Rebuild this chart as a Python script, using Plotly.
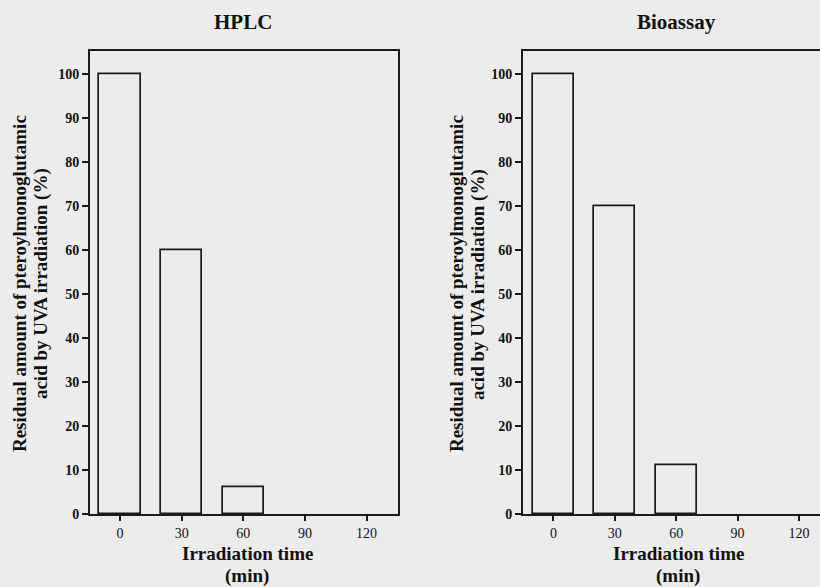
import plotly.graph_objects as go

times = [0, 30, 60, 90, 120]
hplc = [100, 60, 6, 0, 0]
bioassay = [100, 70, 11, 0, 0]
y_ticks = [0, 10, 20, 30, 40, 50, 60, 70, 80, 90, 100]
x_ticks = [0, 30, 60, 90, 120]
panel_titles = ["HPLC", "Bioassay"]
y_title_lines = ["Residual amount of pteroylmonoglutamic", "acid by UVA irradiation (%)"]
x_title_lines = ["Irradiation time", "(min)"]

W, H = 820, 587
BG = "#ececec"
LINE = "#1a1a1a"
FONT = "Liberation Serif"

fig = go.Figure()
for i, (vals, xa, ya) in enumerate([(hplc, "x", "y"), (bioassay, "x2", "y2")]):
    line_cols = [LINE if v > 0 else "rgba(0,0,0,0)" for v in vals]
    fig.add_trace(go.Bar(
        x=times, y=vals, width=20, xaxis=xa, yaxis=ya,
        marker=dict(color="rgba(0,0,0,0)", line=dict(color=line_cols, width=1.7)),
        showlegend=False, hoverinfo="x+y",
    ))

def px_x(p):
    return p / W

def px_y(p):
    return 1 - p / H

ydom = [px_y(521), px_y(52)]
common_x = dict(
    tickmode="array", tickvals=x_ticks, ticks="outside", ticklen=5, tickwidth=1.5,
    tickcolor=LINE, showline=True, linecolor=LINE, linewidth=1.7, showgrid=False,
    zeroline=False, tickfont=dict(family=FONT, size=14, color="#111"),
)
common_y = dict(
    range=[0, 105.2], tickmode="array", tickvals=y_ticks, ticks="outside", ticklen=6,
    tickwidth=1.5, tickcolor=LINE, showline=True, linecolor=LINE, linewidth=1.7,
    showgrid=False, zeroline=False,
    tickfont=dict(family=FONT, size=14, color="#111", weight="bold"),
)

fig.update_layout(
    width=W, height=H, autosize=False, margin=dict(l=0, r=0, t=0, b=0),
    paper_bgcolor=BG, plot_bgcolor=BG, bargap=0,
    xaxis=dict(domain=[px_x(90), px_x(398)], range=[-14.6, 135.3], mirror=True, anchor="y", **common_x),
    yaxis=dict(domain=ydom, mirror=True, anchor="x", **common_y),
    xaxis2=dict(domain=[px_x(523), 1.0], range=[-14.9, 130.3], mirror=True, anchor="y2", **common_x),
    yaxis2=dict(domain=ydom, mirror=False, anchor="x2", **common_y),
)

def ann(text, x, y, size, angle=0):
    return dict(
        text="<b>%s</b>" % text, x=px_x(x), y=px_y(y), xref="paper", yref="paper",
        showarrow=False, xanchor="center", yanchor="middle", textangle=angle,
        font=dict(family=FONT, size=size, color="#111"),
    )

annots = []
title_cx = [243, 676]
xtitle_cx = [247, 678]
ytitle_x = [(19, 41), (456, 478)]
for i in range(2):
    annots.append(ann(panel_titles[i], title_cx[i], 22, 21))
    annots.append(ann(x_title_lines[0], xtitle_cx[i], 561, 19))
    annots.append(ann(x_title_lines[1], xtitle_cx[i], 584, 19))
    annots.append(ann(y_title_lines[0], ytitle_x[i][0], 288, 19, -90))
    annots.append(ann(y_title_lines[1], ytitle_x[i][1], 288, 19, -90))
fig.update_layout(annotations=annots)

fig.write_html(
    "out.html",
    config={"displayModeBar": False, "responsive": False},
    post_script="document.body.style.margin='0';document.body.style.overflow='hidden';",
)
